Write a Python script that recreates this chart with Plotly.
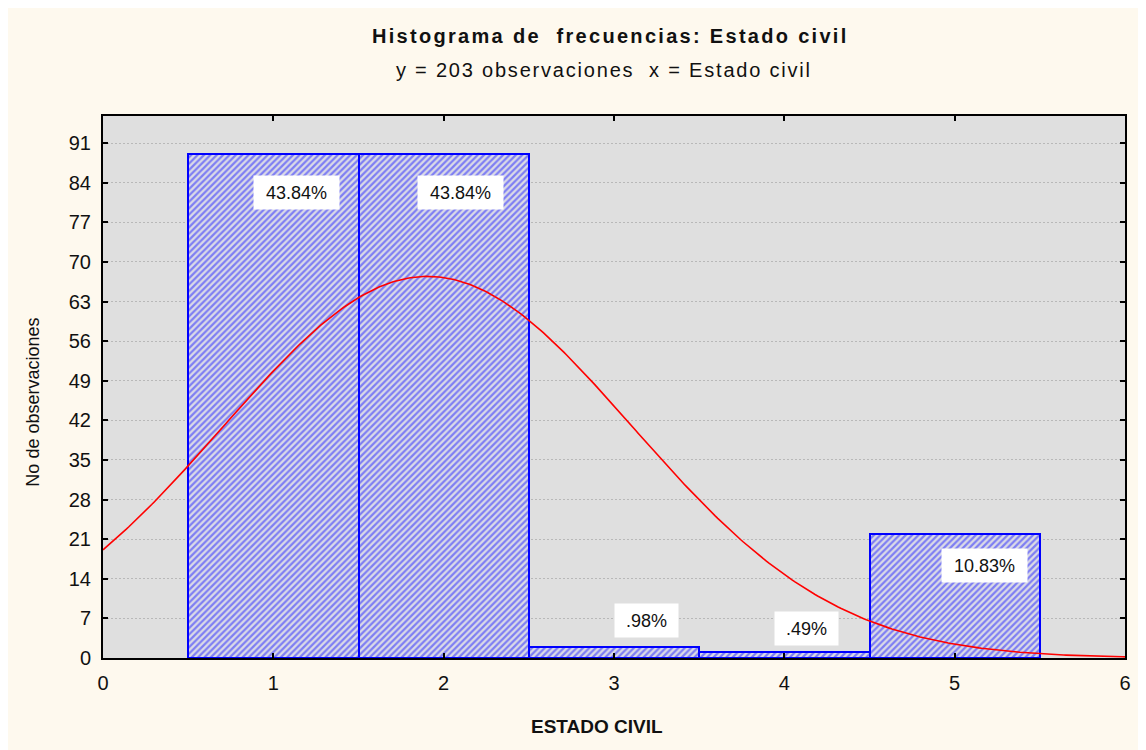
import math
import numpy as np
import plotly.graph_objects as go

# ---- data ----
categories = [1, 2, 3, 4, 5]
counts = [89, 89, 2, 1, 22]
y_ticks = [0, 7, 14, 21, 28, 35, 42, 49, 56, 63, 70, 77, 84, 91]
x_ticks = [0, 1, 2, 3, 4, 5, 6]

total = sum(counts)

def pct_label(c):
    v = math.floor(10000 * c / total) / 100.0  # truncated, as in the original
    s = f"{v:.2f}%"
    if s.startswith("0."):
        s = s[1:]
    return s

labels = [pct_label(c) for c in counts]

# normal curve fitted to the observed data (bin width 1)
vals = np.repeat(categories, counts)
mu = vals.mean()
sd = vals.std(ddof=1)
xc = np.linspace(0, 6, 400)
yc = total * 1.0 / (sd * np.sqrt(2 * np.pi)) * np.exp(-(xc - mu) ** 2 / (2 * sd ** 2))

FONT = "Liberation Sans, Arial, sans-serif"

fig = go.Figure()
fig.add_trace(go.Bar(
    x=categories, y=counts, width=1,
    marker=dict(
        color="#D8D8E8",
        pattern=dict(shape="/", fgcolor="#1F1FFF", bgcolor="#DCDCE6", size=4.5, solidity=0.5),
        line=dict(color="#0000FF", width=2),
    ),
    hoverinfo="skip",
))
fig.add_trace(go.Scatter(
    x=xc, y=yc, mode="lines",
    line=dict(color="#FF0000", width=1.6),
    hoverinfo="skip",
))

# label box positions (layout only)
label_pos_x = [1.137, 2.098, 3.188, 4.128, 5.174]
label_pos_y = [82.3, 82.3, 6.7, 5.3, 16.4]
annotations = []
for lx, ly, t in zip(label_pos_x, label_pos_y, labels):
    annotations.append(dict(
        x=lx, y=ly, xref="x", yref="y", text=t, showarrow=False,
        font=dict(family=FONT, size=18, color="#111111"),
        bgcolor="#FFFFFF", width=85 if len(t) > 4 else 63, height=33, borderpad=0,
        xanchor="center", yanchor="middle",
    ))

annotations += [
    dict(x=0.497, y=1.1476, xref="paper", yref="paper", showarrow=False,
         text="<b>Histograma de  frecuencias: Estado civil</b>",
         font=dict(family=FONT, size=20, color="#111111"), xanchor="center", yanchor="middle"),
    dict(x=0.49, y=1.0849, xref="paper", yref="paper", showarrow=False,
         text="y = 203 observaciones  x = Estado civil",
         font=dict(family=FONT, size=20, color="#111111"), xanchor="center", yanchor="middle"),
    dict(x=0.483, y=-0.1255, xref="paper", yref="paper", showarrow=False,
         text="<b>ESTADO CIVIL</b>",
         font=dict(family=FONT, size=19, color="#111111"), xanchor="center", yanchor="middle"),
    dict(x=-0.0685, y=0.473, xref="paper", yref="paper", showarrow=False,
         text="No de observaciones", textangle=-90,
         font=dict(family=FONT, size=18, color="#111111"), xanchor="center", yanchor="middle"),
]

fig.update_layout(
    width=1138, height=742,
    margin=dict(l=95, r=21, t=108, b=92),
    paper_bgcolor="#FEF9EE",
    plot_bgcolor="#DFDFDF",
    bargap=0,
    showlegend=False,
    hovermode=False,
    annotations=annotations,
)
fig.update_xaxes(
    range=[0, 6], tickvals=x_ticks, ticktext=[str(v) for v in x_ticks],
    showgrid=False, zeroline=False,
    showline=True, linecolor="#000000", linewidth=2, mirror="ticks",
    ticks="inside", ticklen=5, tickwidth=1.5, tickcolor="#000000",
    tickfont=dict(family=FONT, size=20, color="#111111"),
    ticklabelstandoff=6,
)
fig.update_yaxes(
    range=[0, 95.8], tickvals=y_ticks, ticktext=[str(v) for v in y_ticks],
    showgrid=True, gridcolor="#B8B8B8", gridwidth=1.3, griddash="1.5px,2.5px",
    zeroline=False,
    showline=True, linecolor="#000000", linewidth=2, mirror="ticks",
    ticks="inside", ticklen=5, tickwidth=1.5, tickcolor="#000000",
    tickfont=dict(family=FONT, size=20, color="#111111"),
    ticklabelstandoff=6,
)

post_js = """
var gd = document.getElementById('{plot_id}');
function applySpacing(){
  var map = [['Histograma', '2.3px'], ['y = 203', '1.8px']];
  gd.querySelectorAll('text.annotation-text').forEach(function(t){
    var s = t.textContent;
    map.forEach(function(m){ if (s.indexOf(m[0]) === 0) { t.style.letterSpacing = m[1]; } });
  });
}
applySpacing();
gd.on('plotly_afterplot', applySpacing);
"""

fig.write_html("out.html", post_script=post_js)
